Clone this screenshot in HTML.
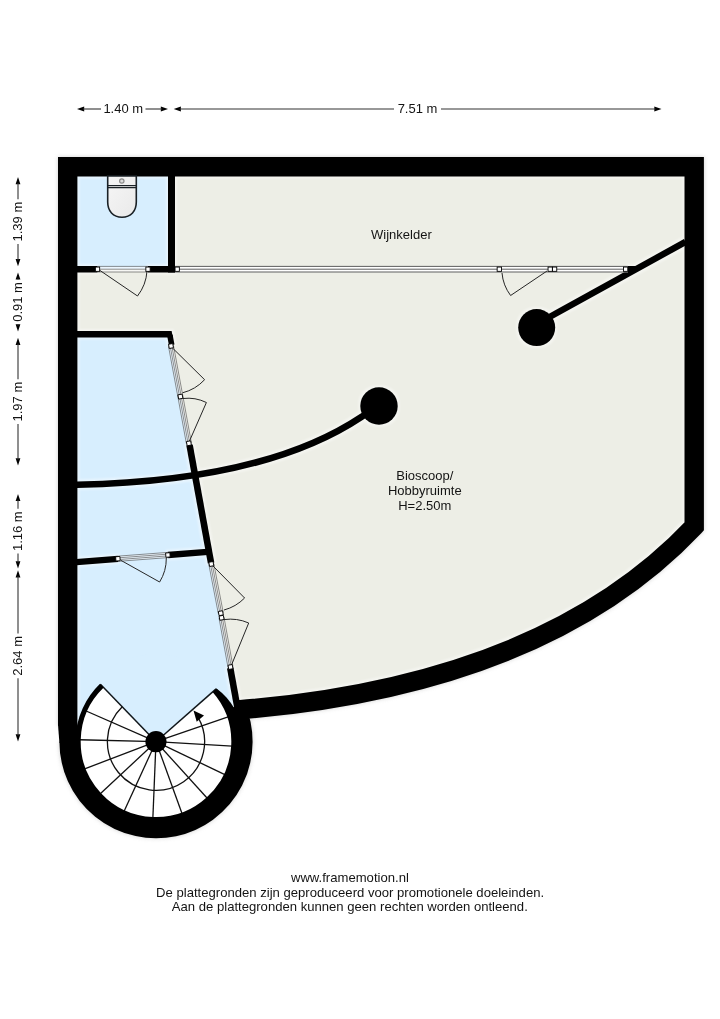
<!DOCTYPE html>
<html><head><meta charset="utf-8"><title>Plattegrond</title>
<style>
html,body{margin:0;padding:0;background:#fff;}
body{width:720px;height:1019px;overflow:hidden;position:relative;font-family:"Liberation Sans",sans-serif;}
svg{position:absolute;left:0;top:0;display:block;}
text{font-family:"Liberation Sans",sans-serif;fill:#141414;}
</style></head><body>
<svg width="720" height="1019" viewBox="0 0 720 1019">
<defs>
<filter id="glow" x="-5%" y="-5%" width="110%" height="110%"><feGaussianBlur stdDeviation="2.2"/></filter>
<filter id="halo" x="-5%" y="-5%" width="110%" height="110%" color-interpolation-filters="sRGB"><feMorphology operator="dilate" radius="1.6"/><feColorMatrix type="matrix" values="0 0 0 0 1  0 0 0 0 1  0 0 0 0 1  0 0 0 0.42 0"/><feGaussianBlur stdDeviation="1.3"/></filter>
<linearGradient id="wc" x1="0" y1="0" x2="1" y2="1"><stop offset="0" stop-color="#f6f6f6"/><stop offset="1" stop-color="#e9e9e9"/></linearGradient>
</defs>
<rect width="720" height="1019" fill="#ffffff"/>

<g opacity="0.8" filter="url(#glow)"><path d="M238.03,709.90 Q544.63,684.90 694.20,526.50 V166.7 H67.7 V725.7 V741.7 A88.30,88.30 0 1 0 236.03,706.07 Z" fill="#c4c4c4"/><path d="M238.03,709.90 Q544.63,684.90 694.20,526.50 V166.7 H67.7 V725.7" fill="none" stroke="#c4c4c4" stroke-width="19.4" stroke-linejoin="miter"/><path d="M68.40,741.70 A87.60,87.60 0 1 0 236.03,706.07" fill="none" stroke="#c4c4c4" stroke-width="18.0"/></g>
<path d="M238.03,709.90 Q544.63,684.90 694.20,526.50 V166.7 H67.7 V725.7 V741.7 A88.30,88.30 0 1 0 236.03,706.07 Z" fill="#edeee6"/>
<rect x="67.7" y="166.7" width="103.3" height="102.30000000000001" fill="#d7eefe"/>
<path d="M67.70,334.00 L169.30,334.00 L238.24,712.00 L67.70,712.00 Z" fill="#d7eefe"/>
<circle cx="156.0" cy="741.7" r="87.60" fill="#d7eefe"/>
<clipPath id="fc"><path d="M238.03,709.90 Q544.63,684.90 694.20,526.50 V166.7 H67.7 V725.7 V741.7 A88.30,88.30 0 1 0 236.03,706.07 Z"/></clipPath>
<g clip-path="url(#fc)"><use href="#walls" filter="url(#halo)"/></g>
<path d="M156.00,741.70 L214.07,690.68 A77.3,77.3 0 1 1 102.30,686.10 Z" fill="#ffffff"/>
<line x1="156.0" y1="741.7" x2="228.13" y2="716.83" stroke="#111" stroke-width="1.3"/>
<line x1="156.0" y1="741.7" x2="232.18" y2="746.03" stroke="#111" stroke-width="1.3"/>
<line x1="156.0" y1="741.7" x2="224.85" y2="774.58" stroke="#111" stroke-width="1.3"/>
<line x1="156.0" y1="741.7" x2="207.25" y2="798.22" stroke="#111" stroke-width="1.3"/>
<line x1="156.0" y1="741.7" x2="182.00" y2="813.43" stroke="#111" stroke-width="1.3"/>
<line x1="156.0" y1="741.7" x2="152.87" y2="817.94" stroke="#111" stroke-width="1.3"/>
<line x1="156.0" y1="741.7" x2="124.21" y2="811.06" stroke="#111" stroke-width="1.3"/>
<line x1="156.0" y1="741.7" x2="100.29" y2="793.83" stroke="#111" stroke-width="1.3"/>
<line x1="156.0" y1="741.7" x2="84.68" y2="768.83" stroke="#111" stroke-width="1.3"/>
<line x1="156.0" y1="741.7" x2="79.72" y2="739.77" stroke="#111" stroke-width="1.3"/>
<line x1="156.0" y1="741.7" x2="86.15" y2="711.00" stroke="#111" stroke-width="1.3"/>
<line x1="156.0" y1="741.7" x2="216.10" y2="688.90" stroke="#10161a" stroke-width="1.5"/>
<line x1="156.0" y1="741.7" x2="100.43" y2="684.15" stroke="#10161a" stroke-width="1.5"/>
<path d="M122.24,706.74 A48.6,48.6 0 1 0 198.09,717.40" fill="none" stroke="#111" stroke-width="1.3"/>
<path d="M193.5,710.6 L196.7,721.7 L204.0,715.5 Z" fill="#000"/>
<path d="M214.56,690.25 A77.95,77.95 0 1 1 101.85,685.63" fill="none" stroke="#000" stroke-width="5.30"/>
<path d="M216.2,688.3 Q227.5,696.5 234.9,709.3 L238,716 L224,706 Z" fill="#000"/>
<circle cx="156.0" cy="741.7" r="10.6" fill="#000"/>
<g id="walls">
<path d="M238.03,709.90 Q544.63,684.90 694.20,526.50 V166.7 H67.7 V725.7" fill="none" stroke="#000" stroke-width="19.4" stroke-linejoin="miter" stroke-miterlimit="10"/>
<path d="M68.40,741.70 A87.60,87.60 0 1 0 236.03,706.07" fill="none" stroke="#000" stroke-width="18.00"/>
<path d="M58.0,724.7 L59.40,742.7 L77.4,742.7 L77.4,724.7 Z" fill="#000"/>
<path d="M226.03,706.02 L238.03,709.90 L248.86,715.07 L230.75,717.41 Z" fill="#000"/>
<rect x="168" y="175.4" width="7" height="97.1" fill="#000"/>
<rect x="76.4" y="266" width="21.099999999999994" height="6.5" fill="#000"/>
<rect x="148" y="266" width="27" height="6.5" fill="#000"/>
<path d="M76.4,331.1 H171.6 L172.9,337.5 H76.4 Z" fill="#000"/>
<line x1="169.88" y1="335.00" x2="171.71" y2="345.00" stroke="#000" stroke-width="5.6"/>
<line x1="189.54" y1="445.00" x2="211.07" y2="563.00" stroke="#000" stroke-width="6.6"/>
<line x1="230.22" y1="668.00" x2="237.51" y2="708.00" stroke="#000" stroke-width="6.6"/>
<path d="M66.00,485.00 L77.00,484.80 Q265.26,481.07 361.70,416.70 L379,406" fill="none" stroke="#000" stroke-width="6.6"/>
<line x1="76.40" y1="562.10" x2="118.00" y2="558.90" stroke="#000" stroke-width="6.4"/>
<line x1="168.00" y1="555.00" x2="207.50" y2="551.90" stroke="#000" stroke-width="6.4"/>
<circle cx="379" cy="406" r="18.7" fill="#000"/>
<circle cx="536.7" cy="327.6" r="18.5" fill="#000"/>
<line x1="545.00" y1="319.50" x2="685.50" y2="241.90" stroke="#000" stroke-width="6.4"/>
<path d="M628,266 L643,266 L632,272.5 L628,272.5 Z" fill="#000"/>
</g>
<rect x="175" y="266" width="453" height="6.4" fill="#ffffff"/>
<line x1="175" y1="266.4" x2="628" y2="266.4" stroke="#333" stroke-width="0.8"/>
<line x1="175" y1="269.2" x2="628" y2="269.2" stroke="#333" stroke-width="0.8"/>
<line x1="175" y1="272.0" x2="628" y2="272.0" stroke="#333" stroke-width="0.8"/>
<polygon points="97.50,272.00 148.00,272.00 148.00,266.40 97.50,266.40" fill="rgba(255,255,255,0.55)"/>
<line x1="97.50" y1="266.40" x2="148.00" y2="266.40" stroke="#444" stroke-width="0.6"/>
<line x1="97.50" y1="269.20" x2="148.00" y2="269.20" stroke="#444" stroke-width="0.6"/>
<line x1="97.50" y1="272.00" x2="148.00" y2="272.00" stroke="#444" stroke-width="0.6"/>
<path d="M100.00,270.50 L137.50,296.00 A45.35,45.35 0 0 0 147.00,271.00" fill="none" stroke="#262626" stroke-width="1" stroke-linejoin="miter"/>
<rect x="-2.15" y="-2.15" width="4.3" height="4.3" fill="#fff" stroke="#000" stroke-width="0.9" transform="translate(97.50,269.20) rotate(0.0)"/>
<rect x="-2.15" y="-2.15" width="4.3" height="4.3" fill="#fff" stroke="#000" stroke-width="0.9" transform="translate(148.00,269.20) rotate(0.0)"/>
<path d="M547.00,271.00 L510.60,295.50 A43.88,43.88 0 0 1 502.00,273.00" fill="none" stroke="#262626" stroke-width="1" stroke-linejoin="miter"/>
<rect x="-2.15" y="-2.15" width="4.3" height="4.3" fill="#fff" stroke="#000" stroke-width="0.9" transform="translate(499.30,269.20) rotate(0.0)"/>
<rect x="-2.15" y="-2.15" width="4.3" height="4.3" fill="#fff" stroke="#000" stroke-width="0.9" transform="translate(550.20,269.20) rotate(0.0)"/>
<rect x="-2.15" y="-2.15" width="4.3" height="4.3" fill="#fff" stroke="#000" stroke-width="0.9" transform="translate(554.60,269.20) rotate(0.0)"/>
<rect x="-2.15" y="-2.15" width="4.3" height="4.3" fill="#fff" stroke="#000" stroke-width="0.9" transform="translate(625.60,269.20) rotate(0.0)"/>
<rect x="-2.15" y="-2.15" width="4.3" height="4.3" fill="#fff" stroke="#000" stroke-width="0.9" transform="translate(177.20,269.20) rotate(0.0)"/>
<polygon points="168.54,346.46 177.94,397.06 182.86,396.14 173.46,345.54" fill="rgba(255,255,255,0.55)"/>
<line x1="173.46" y1="345.54" x2="182.86" y2="396.14" stroke="#444" stroke-width="0.6"/>
<line x1="171.82" y1="345.85" x2="181.22" y2="396.45" stroke="#444" stroke-width="0.6"/>
<line x1="170.18" y1="346.15" x2="179.58" y2="396.75" stroke="#444" stroke-width="0.6"/>
<line x1="168.54" y1="346.46" x2="177.94" y2="397.06" stroke="#444" stroke-width="0.6"/>
<polygon points="177.94,397.05 186.44,443.75 191.36,442.85 182.86,396.15" fill="rgba(255,255,255,0.55)"/>
<line x1="182.86" y1="396.15" x2="191.36" y2="442.85" stroke="#444" stroke-width="0.6"/>
<line x1="181.22" y1="396.45" x2="189.72" y2="443.15" stroke="#444" stroke-width="0.6"/>
<line x1="179.58" y1="396.75" x2="188.08" y2="443.45" stroke="#444" stroke-width="0.6"/>
<line x1="177.94" y1="397.05" x2="186.44" y2="443.75" stroke="#444" stroke-width="0.6"/>
<path d="M172.50,348.00 L204.60,379.70 A45.11,45.11 0 0 1 182.50,392.80" fill="none" stroke="#262626" stroke-width="1" stroke-linejoin="miter"/>
<path d="M189.50,441.00 L206.40,402.50 A42.05,42.05 0 0 0 183.00,398.50" fill="none" stroke="#262626" stroke-width="1" stroke-linejoin="miter"/>
<rect x="-2.15" y="-2.15" width="4.3" height="4.3" fill="#fff" stroke="#000" stroke-width="0.9" transform="translate(171.00,346.00) rotate(-10.3)"/>
<rect x="-2.15" y="-2.15" width="4.3" height="4.3" fill="#fff" stroke="#000" stroke-width="0.9" transform="translate(180.40,396.60) rotate(-10.3)"/>
<rect x="-2.15" y="-2.15" width="4.3" height="4.3" fill="#fff" stroke="#000" stroke-width="0.9" transform="translate(188.90,443.30) rotate(-10.3)"/>
<polygon points="208.85,564.47 218.35,613.67 223.25,612.73 213.75,563.53" fill="rgba(255,255,255,0.55)"/>
<line x1="213.75" y1="563.53" x2="223.25" y2="612.73" stroke="#444" stroke-width="0.6"/>
<line x1="212.12" y1="563.84" x2="221.62" y2="613.04" stroke="#444" stroke-width="0.6"/>
<line x1="210.48" y1="564.16" x2="219.98" y2="613.36" stroke="#444" stroke-width="0.6"/>
<line x1="208.85" y1="564.47" x2="218.35" y2="613.67" stroke="#444" stroke-width="0.6"/>
<polygon points="219.04,618.05 228.04,667.45 232.96,666.55 223.96,617.15" fill="rgba(255,255,255,0.55)"/>
<line x1="223.96" y1="617.15" x2="232.96" y2="666.55" stroke="#444" stroke-width="0.6"/>
<line x1="222.32" y1="617.45" x2="231.32" y2="666.85" stroke="#444" stroke-width="0.6"/>
<line x1="220.68" y1="617.75" x2="229.68" y2="667.15" stroke="#444" stroke-width="0.6"/>
<line x1="219.04" y1="618.05" x2="228.04" y2="667.45" stroke="#444" stroke-width="0.6"/>
<path d="M213.00,566.00 L244.60,598.00 A44.97,44.97 0 0 1 224.00,610.00" fill="none" stroke="#262626" stroke-width="1" stroke-linejoin="miter"/>
<path d="M231.50,665.00 L248.70,623.00 A45.39,45.39 0 0 0 224.00,619.60" fill="none" stroke="#262626" stroke-width="1" stroke-linejoin="miter"/>
<rect x="-2.15" y="-2.15" width="4.3" height="4.3" fill="#fff" stroke="#000" stroke-width="0.9" transform="translate(211.30,564.00) rotate(-10.3)"/>
<rect x="-2.15" y="-2.15" width="4.3" height="4.3" fill="#fff" stroke="#000" stroke-width="0.9" transform="translate(220.80,613.20) rotate(-10.3)"/>
<rect x="-2.15" y="-2.15" width="4.3" height="4.3" fill="#fff" stroke="#000" stroke-width="0.9" transform="translate(221.60,617.80) rotate(-10.3)"/>
<rect x="-2.15" y="-2.15" width="4.3" height="4.3" fill="#fff" stroke="#000" stroke-width="0.9" transform="translate(230.50,667.00) rotate(-10.3)"/>
<polygon points="118.09,561.34 168.09,557.59 167.71,552.41 117.71,556.16" fill="rgba(255,255,255,0.55)"/>
<line x1="117.71" y1="556.16" x2="167.71" y2="552.41" stroke="#444" stroke-width="0.6"/>
<line x1="117.84" y1="557.89" x2="167.84" y2="554.14" stroke="#444" stroke-width="0.6"/>
<line x1="117.96" y1="559.61" x2="167.96" y2="555.86" stroke="#444" stroke-width="0.6"/>
<line x1="118.09" y1="561.34" x2="168.09" y2="557.59" stroke="#444" stroke-width="0.6"/>
<path d="M121.00,560.40 L159.60,582.00 A44.23,44.23 0 0 0 166.30,558.00" fill="none" stroke="#262626" stroke-width="1" stroke-linejoin="miter"/>
<rect x="-2.15" y="-2.15" width="4.3" height="4.3" fill="#fff" stroke="#000" stroke-width="0.9" transform="translate(117.90,558.75) rotate(-4.3)"/>
<rect x="-2.15" y="-2.15" width="4.3" height="4.3" fill="#fff" stroke="#000" stroke-width="0.9" transform="translate(167.90,555.00) rotate(-4.3)"/>
<path d="M107.7,176 V202 C107.7,211 113,217.2 122,217.2 C131,217.2 136.3,211 136.3,202 V176 Z" fill="url(#wc)" stroke="#1a2126" stroke-width="1.6"/>
<line x1="107.7" y1="185.6" x2="136.3" y2="185.6" stroke="#1a2126" stroke-width="1.25"/>
<line x1="107.7" y1="187.6" x2="136.3" y2="187.7" stroke="#1a2126" stroke-width="1.25"/>
<circle cx="121.8" cy="181" r="2.2" fill="#dcdcdc" stroke="#8c8c8c" stroke-width="1.2"/>
<g opacity="0.999">
<path d="M77,109 L84.2,106.6 L84.2,111.4 Z" fill="#000"/>
<path d="M168,109 L160.8,106.6 L160.8,111.4 Z" fill="#000"/>
<line x1="83" y1="109" x2="101.0" y2="109" stroke="#333" stroke-width="1.1"/>
<line x1="145.5" y1="109" x2="162" y2="109" stroke="#333" stroke-width="1.1"/>
<text x="123.25" y="113.4" font-size="13.0" text-anchor="middle">1.40 m</text>
<path d="M173.7,109 L180.89999999999998,106.6 L180.89999999999998,111.4 Z" fill="#000"/>
<path d="M661.5,109 L654.3,106.6 L654.3,111.4 Z" fill="#000"/>
<line x1="179.7" y1="109" x2="394.0" y2="109" stroke="#333" stroke-width="1.1"/>
<line x1="441.0" y1="109" x2="655.5" y2="109" stroke="#333" stroke-width="1.1"/>
<text x="417.5" y="113.4" font-size="13.0" text-anchor="middle">7.51 m</text>
<path d="M18,177 L15.6,184.2 L20.4,184.2 Z" fill="#000"/>
<path d="M18,266.2 L15.6,259.0 L20.4,259.0 Z" fill="#000"/>
<line x1="18" y1="183" x2="18" y2="199.20" stroke="#333" stroke-width="1.1"/>
<line x1="18" y1="244.00" x2="18" y2="260.2" stroke="#333" stroke-width="1.1"/>
<text transform="translate(22.4,221.60) rotate(-90)" font-size="13.0" text-anchor="middle">1.39 m</text>
<path d="M18,272.4 L15.6,279.59999999999997 L20.4,279.59999999999997 Z" fill="#000"/>
<path d="M18,331.5 L15.6,324.3 L20.4,324.3 Z" fill="#000"/>
<line x1="18" y1="278.4" x2="18" y2="279.55" stroke="#333" stroke-width="1.1"/>
<line x1="18" y1="324.35" x2="18" y2="325.5" stroke="#333" stroke-width="1.1"/>
<text transform="translate(22.4,301.95) rotate(-90)" font-size="13.0" text-anchor="middle">0.91 m</text>
<path d="M18,337.7 L15.6,344.9 L20.4,344.9 Z" fill="#000"/>
<path d="M18,465.5 L15.6,458.3 L20.4,458.3 Z" fill="#000"/>
<line x1="18" y1="343.7" x2="18" y2="379.20" stroke="#333" stroke-width="1.1"/>
<line x1="18" y1="424.00" x2="18" y2="459.5" stroke="#333" stroke-width="1.1"/>
<text transform="translate(22.4,401.60) rotate(-90)" font-size="13.0" text-anchor="middle">1.97 m</text>
<path d="M18,493.9 L15.6,501.09999999999997 L20.4,501.09999999999997 Z" fill="#000"/>
<path d="M18,568.5 L15.6,561.3 L20.4,561.3 Z" fill="#000"/>
<line x1="18" y1="499.9" x2="18" y2="508.80" stroke="#333" stroke-width="1.1"/>
<line x1="18" y1="553.60" x2="18" y2="562.5" stroke="#333" stroke-width="1.1"/>
<text transform="translate(22.4,531.20) rotate(-90)" font-size="13.0" text-anchor="middle">1.16 m</text>
<path d="M18,570.3 L15.6,577.5 L20.4,577.5 Z" fill="#000"/>
<path d="M18,741.5 L15.6,734.3 L20.4,734.3 Z" fill="#000"/>
<line x1="18" y1="576.3" x2="18" y2="633.50" stroke="#333" stroke-width="1.1"/>
<line x1="18" y1="678.30" x2="18" y2="735.5" stroke="#333" stroke-width="1.1"/>
<text transform="translate(22.4,655.90) rotate(-90)" font-size="13.0" text-anchor="middle">2.64 m</text>
<text x="401.4" y="238.8" font-size="13.0" text-anchor="middle">Wijnkelder</text>
<text x="424.8" y="479.9" font-size="13.0" text-anchor="middle">Bioscoop/</text>
<text x="424.8" y="495.1" font-size="13.0" text-anchor="middle">Hobbyruimte</text>
<text x="424.8" y="509.8" font-size="13.0" text-anchor="middle">H=2.50m</text>
<text x="349.9" y="882" font-size="13.1" text-anchor="middle">www.framemotion.nl</text>
<text x="350.1" y="896.7" font-size="13.1" text-anchor="middle">De plattegronden zijn geproduceerd voor promotionele doeleinden.</text>
<text x="349.8" y="911.3" font-size="13.1" text-anchor="middle">Aan de plattegronden kunnen geen rechten worden ontleend.</text>
</g>
</svg></body></html>
